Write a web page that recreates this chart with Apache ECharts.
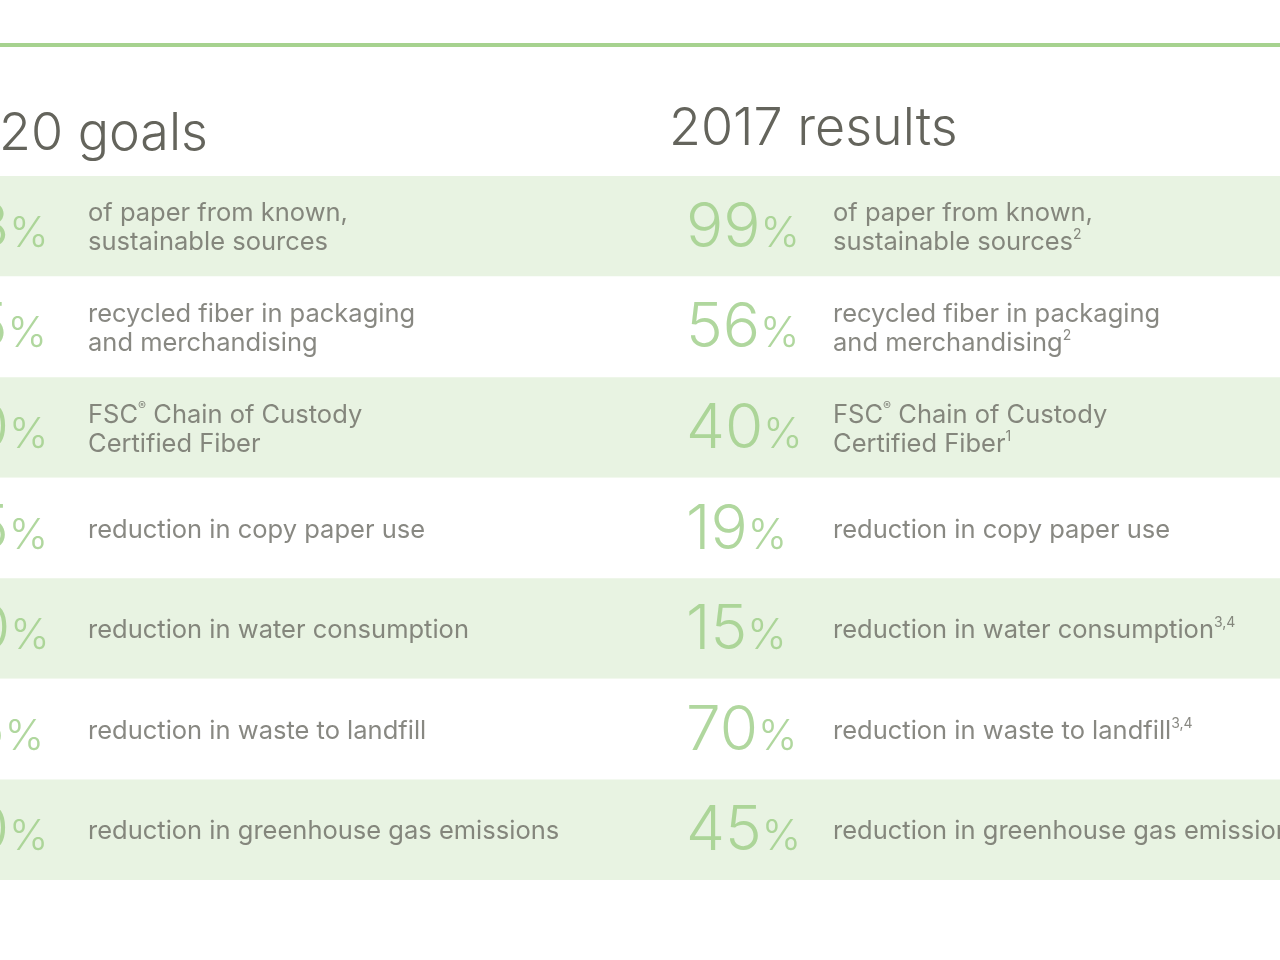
<!DOCTYPE html>
<html>
<head>
<meta charset="utf-8">
<script src="https://cdn.jsdelivr.net/npm/echarts@6/dist/echarts.min.js"></script>
<style>
html, body { margin: 0; padding: 0; background: #fff; }
#mychart { width: 1280px; height: 960px; }
</style>
</head>
<body>
<div id="mychart"></div>
<script>
// row texts (same for both columns)
var rowLines = [
    ['of paper from known,', 'sustainable sources'],
    ['recycled fiber in packaging', 'and merchandising'],
    ['FSC® Chain of Custody', 'Certified Fiber'],
    ['reduction in copy paper use'],
    ['reduction in water consumption'],
    ['reduction in waste to landfill'],
    ['reduction in greenhouse gas emissions']
];
// 2020 goals, left part is cut off in the picture
var goals2020 = [98, 55, 50, 25, 20, 75, 50];
// 2017 results
var results2017 = [99, 56, 40, 19, 15, 70, 45];
var resultNotes = ['2', '2', '1', '', '3,4', '3,4', ''];
var headers = ['2020 goals', '2017 results'];

var GREEN = '#9ccd86';
var GRAY = '#6a6a63';
var FONT = 'Inter';

var rowIdx = rowLines.map(function (d, i) { return i; });

function descText(lines, note) {
    var out = [];
    for (var i = 0; i < lines.length; i++) {
        var s = '{t|' + lines[i].replace('®', '}{r|®}{t|') + '}';
        if (i == lines.length - 1 && note) {
            s += '{s|' + note + '}';
        }
        out.push(s);
    }
    return out.join('\n');
}

var numRich = {
    n: { fontSize: 62, fontFamily: FONT, fontWeight: 300, color: GREEN, lineHeight: 62, verticalAlign: 'bottom' },
    p: { fontSize: 42, fontFamily: FONT, fontWeight: 300, color: GREEN, lineHeight: 42, verticalAlign: 'bottom', padding: [0, 0, 4, 0] }
};
var descRich = {
    t: { fontSize: 25.5, fontFamily: FONT, fontWeight: 400, color: GRAY, lineHeight: 29 },
    r: { fontSize: 12, fontFamily: FONT, color: GRAY, lineHeight: 16, verticalAlign: 'top' },
    s: { fontSize: 14, fontFamily: FONT, color: GRAY, lineHeight: 16, verticalAlign: 'top' }
};

function numSeries(values, x) {
    return {
        type: 'scatter',
        symbolSize: 0,
        clip: false,
        silent: true,
        data: values.map(function (v, i) { return [x, i, v]; }),
        label: {
            show: true,
            position: 'right',
            distance: 0,
            offset: [0, 2],
            formatter: function (p) { return '{n|' + p.value[2] + '}{p|%}'; },
            rich: numRich
        }
    };
}

function descSeries(notes, x) {
    return {
        type: 'scatter',
        symbolSize: 0,
        clip: false,
        silent: true,
        data: rowIdx.map(function (i) { return [x, i]; }),
        label: {
            show: true,
            position: 'right',
            distance: 0,
            offset: [0, 2],
            formatter: function (p) { return descText(rowLines[p.dataIndex], notes[p.dataIndex]); },
            rich: descRich
        }
    };
}

var myChart = echarts.init(document.getElementById('mychart'));
myChart.setOption({
    backgroundColor: '#ffffff',
    animation: false,
    title: [
        { text: headers[0], left: -70, top: 103, textStyle: { fontFamily: FONT, fontWeight: 300, fontSize: 52, color: '#64645c' } },
        { text: headers[1], left: 664, top: 98, textStyle: { fontFamily: FONT, fontWeight: 300, fontSize: 52, color: '#64645c' } }
    ],
    grid: { left: 0, right: 0, top: 176, bottom: 80 },
    xAxis: {
        type: 'value',
        min: 0,
        max: 1280,
        position: 'top',
        offset: 131,
        axisLine: { show: true, lineStyle: { color: '#a6d28f', width: 4 } },
        axisTick: { show: false },
        axisLabel: { show: false },
        splitLine: { show: false }
    },
    yAxis: {
        type: 'category',
        inverse: true,
        data: rowIdx,
        axisLine: { show: false },
        axisTick: { show: false },
        axisLabel: { show: false },
        splitLine: { show: false },
        splitArea: { show: true, areaStyle: { color: ['#e8f3e2', '#ffffff'] } }
    },
    series: [
        numSeries(goals2020, -66),
        descSeries(['', '', '', '', '', '', ''], 88),
        numSeries(results2017, 686),
        descSeries(resultNotes, 833)
    ]
});
</script>
</body>
</html>
